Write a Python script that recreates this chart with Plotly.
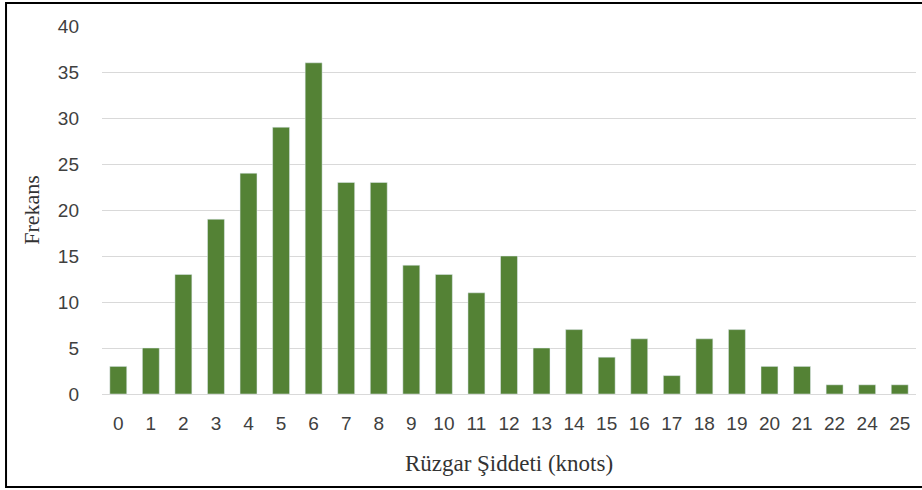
import plotly.graph_objects as go

# Frecuencia de la intensidad del viento
hizlar = ['0', '1', '2', '3', '4', '5', '6', '7', '8', '9', '10', '11', '12',
          '13', '14', '15', '16', '17', '18', '19', '20', '21', '22', '24', '25']
frekans = [3, 5, 13, 19, 24, 29, 36, 23, 23, 14, 13, 11, 15,
           5, 7, 4, 6, 2, 6, 7, 3, 3, 1, 1, 1]

fig = go.Figure(go.Bar(x=hizlar, y=frekans, marker_color='#548235'))

fig.update_layout(
    width=922, height=490,
    margin=dict(l=102, r=6, t=26, b=96),
    plot_bgcolor='white', paper_bgcolor='white',
    bargap=0.48,
    showlegend=False,
    font=dict(family='Liberation Sans, Arial, sans-serif', size=19, color='#404040'),
)

fig.update_xaxes(
    type='category',
    title=dict(text='Rüzgar Şiddeti (knots)', standoff=22,
               font=dict(family='Liberation Serif, Times New Roman, serif', size=23, color='#333333')),
    showline=True, linecolor='#d9d9d9', linewidth=1,
    ticks='', ticklabelstandoff=12,
)

fig.update_yaxes(
    range=[0, 40], dtick=5,
    title=dict(text='Frekans', standoff=12,
               font=dict(family='Liberation Serif, Times New Roman, serif', size=22, color='#333333')),
    showgrid=True, gridcolor='#d9d9d9', gridwidth=1,
    zeroline=False, ticks='', ticklabelstandoff=22,
)

# Marco negro alrededor de la imagen
fig.add_shape(type='rect', xref='paper', yref='paper',
              x0=-0.1179, x1=1.017, y0=-0.2527, y1=1.0625,
              line=dict(color='black', width=2))

fig.write_html("out.html", config={'displayModeBar': False},
               post_script="document.body.style.margin='0';")
